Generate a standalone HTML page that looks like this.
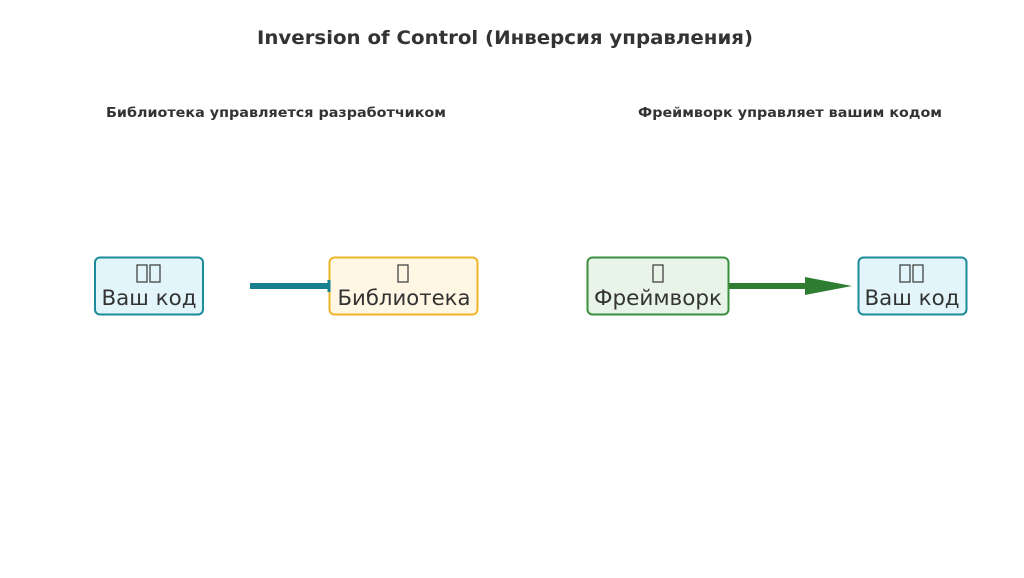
<!DOCTYPE html>
<html><head><meta charset="utf-8"><style>
html,body{margin:0;padding:0;background:#fff;}
svg{display:block;font-family:"DejaVu Sans","Liberation Sans",sans-serif;}
</style></head><body>
<svg width="1024" height="578" viewBox="0 0 1024 578" xmlns="http://www.w3.org/2000/svg">
<rect width="1024" height="578" fill="#fff"/>
<text x="257" y="44" font-size="19" font-weight="bold" fill="#333" textLength="496" lengthAdjust="spacingAndGlyphs">Inversion of Control (Инверсия управления)</text>
<text x="106" y="117" font-size="13.5" font-weight="bold" fill="#333" textLength="340" lengthAdjust="spacingAndGlyphs">Библиотека управляется разработчиком</text>
<text x="638" y="117" font-size="13.5" font-weight="bold" fill="#333" textLength="304" lengthAdjust="spacingAndGlyphs">Фреймворк управляет вашим кодом</text>

<line x1="250" y1="286" x2="332" y2="286" stroke="#17808f" stroke-width="6"/>
<line x1="729" y1="286" x2="808" y2="286" stroke="#2e7d32" stroke-width="6"/>
<polygon points="805,277 852,286 805,295" fill="#2e7d32"/>

<rect x="95" y="257.5" width="108" height="57" rx="5" fill="#e1f5fb" stroke="#1b8a99" stroke-width="2"/>
<rect x="137" y="265" width="10" height="17" fill="none" stroke="#444" stroke-width="1.3"/>
<rect x="150" y="265" width="10" height="17" fill="none" stroke="#444" stroke-width="1.3"/>
<text x="149" y="305" font-size="21" fill="#333" text-anchor="middle" textLength="95" lengthAdjust="spacingAndGlyphs">Ваш код</text>

<rect x="329.5" y="257.5" width="148" height="57" rx="5" fill="#fff6e4" stroke="#f0b429" stroke-width="2"/>
<rect x="398" y="265" width="10" height="17" fill="none" stroke="#444" stroke-width="1.3"/>
<text x="404" y="305" font-size="21" fill="#333" text-anchor="middle" textLength="133" lengthAdjust="spacingAndGlyphs">Библиотека</text>
<line x1="329" y1="280" x2="329" y2="292" stroke="#17808f" stroke-width="3"/>

<rect x="587.5" y="257.5" width="141" height="57" rx="5" fill="#e8f4e8" stroke="#388e3c" stroke-width="2"/>
<rect x="653" y="265" width="10" height="17" fill="none" stroke="#444" stroke-width="1.3"/>
<text x="658" y="305" font-size="21" fill="#333" text-anchor="middle" textLength="128" lengthAdjust="spacingAndGlyphs">Фреймворк</text>

<rect x="858.5" y="257.5" width="108" height="57" rx="5" fill="#e1f5fb" stroke="#1b8a99" stroke-width="2"/>
<rect x="900" y="265" width="10" height="17" fill="none" stroke="#444" stroke-width="1.3"/>
<rect x="913" y="265" width="10" height="17" fill="none" stroke="#444" stroke-width="1.3"/>
<text x="912" y="305" font-size="21" fill="#333" text-anchor="middle" textLength="95" lengthAdjust="spacingAndGlyphs">Ваш код</text>
</svg>
</body></html>
